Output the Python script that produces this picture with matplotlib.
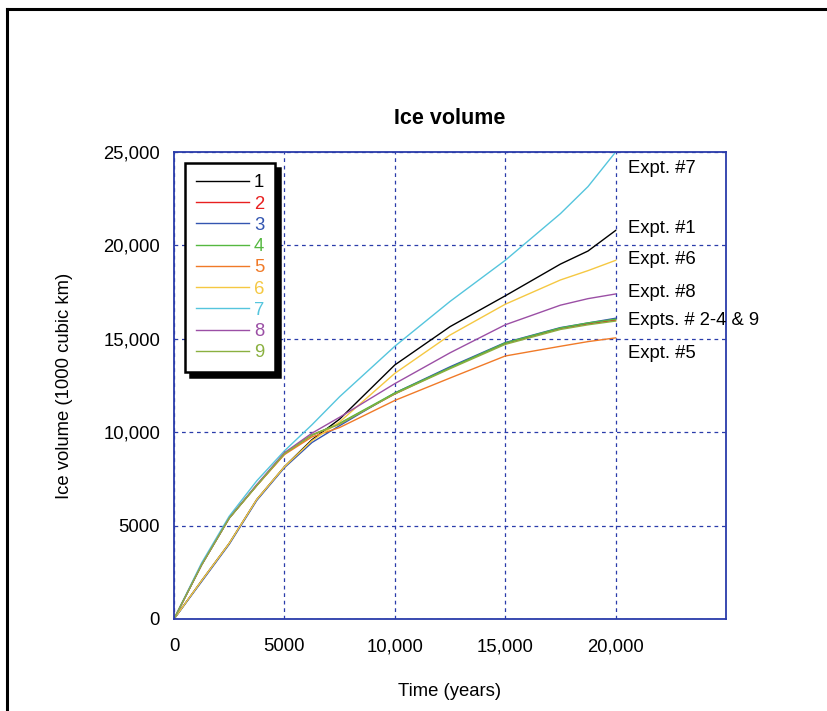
import matplotlib.pyplot as plt
from matplotlib.lines import Line2D
from matplotlib.ticker import FuncFormatter

plt.rcParams['font.family'] = ['Liberation Sans', 'DejaVu Sans']

# time in years
t = [0, 1250, 2500, 3750, 5000, 6250, 7500, 10000, 12500, 15000, 17500, 18750, 20000]

# ice volume (1000 cubic km) for each experiment
v1 = [0, 2050, 4050, 6400, 8150, 9600, 10700, 13600, 15650, 17300, 19000, 19700, 20800]
v2 = [0, 2900, 5400, 7150, 8850, 9850, 10450, 12050, 13450, 14750, 15550, 15800, 16000]
v3 = [0, 2000, 4000, 6350, 8100, 9450, 10350, 12100, 13500, 14800, 15600, 15850, 16100]
v4 = [0, 2900, 5400, 7150, 8850, 9850, 10480, 12100, 13450, 14780, 15580, 15850, 16050]
v5 = [0, 2900, 5400, 7150, 8800, 9750, 10250, 11700, 12900, 14080, 14600, 14850, 15050]
v6 = [0, 2050, 4050, 6400, 8150, 9550, 10550, 13150, 15200, 16850, 18150, 18650, 19200]
v7 = [0, 3000, 5500, 7400, 9000, 10400, 11900, 14600, 17000, 19200, 21700, 23150, 25000]
v8 = [0, 2900, 5400, 7200, 8900, 9950, 10800, 12600, 14250, 15750, 16800, 17150, 17400]
v9 = [0, 2900, 5400, 7150, 8850, 9850, 10430, 12050, 13400, 14700, 15500, 15750, 15950]

series = [v1, v2, v3, v4, v5, v6, v7, v8, v9]
labels = ["1", "2", "3", "4", "5", "6", "7", "8", "9"]
colors = ["#000000", "#e82020", "#3355b0", "#55b840", "#f07a28",
          "#f5c842", "#55c5dd", "#9b4fa5", "#8ab040"]

# end labels
notes = ["Expt. #7", "Expt. #1", "Expt. #6", "Expt. #8", "Expts. # 2-4 & 9", "Expt. #5"]
note_y = [24140, 20930, 19270, 17500, 16000, 14190]

fig = plt.figure(figsize=(8.27, 7.11), dpi=100)
ax = fig.add_axes([0.2104, 0.1294, 0.6675, 0.6568])

for v, lab, c in zip(series, labels, colors):
    ax.plot(t, v, color=c, lw=1.0, label=lab)

ax.set_xlim(0, 25000)
ax.set_ylim(0, 25000)
ax.set_xticks([0, 5000, 10000, 15000, 20000])
ax.set_yticks([0, 5000, 10000, 15000, 20000, 25000])

def fmt(x, pos):
    if x >= 10000:
        return "{:,.0f}".format(x)
    return "{:.0f}".format(x)

ax.xaxis.set_major_formatter(FuncFormatter(fmt))
ax.yaxis.set_major_formatter(FuncFormatter(fmt))
ax.tick_params(length=0, labelsize=13.3)
ax.tick_params(axis='y', pad=10)
ax.tick_params(axis='x', pad=14)

ax.grid(True, color="#2a3caa", ls=(0, (3, 3)), lw=0.9)
for s in ax.spines.values():
    s.set_color("#2a3caa")
    s.set_linewidth(1.3)

ax.set_title("Ice volume", fontsize=15.5, fontweight="bold", pad=20)
ax.set_xlabel("Time (years)", fontsize=13.3, labelpad=20)
ax.set_ylabel("Ice volume (1000 cubic km)", fontsize=13.3, labelpad=22)

for txt, y in zip(notes, note_y):
    ax.text(20550, y, txt, fontsize=13.3, va="center", ha="left")

leg = ax.legend(loc="upper left", bbox_to_anchor=(0.02, 0.976), borderaxespad=0,
                fontsize=13.3, handlelength=2.86, handletextpad=0.27, labelspacing=0.23,
                borderpad=0.6, fancybox=False, edgecolor="black", framealpha=1,
                shadow={"color": "black", "alpha": 1, "ox": 3.5, "oy": -3.5})
leg.get_frame().set_linewidth(1.8)
for txt, c in zip(leg.get_texts(), colors):
    txt.set_color(c)

# outer frame (left and top)
fig.add_artist(Line2D([7/827, 7/827], [0, 1 - 9/711], transform=fig.transFigure, color="black", lw=2.2))
fig.add_artist(Line2D([7/827, 1], [1 - 9/711, 1 - 9/711], transform=fig.transFigure, color="black", lw=2.2))

plt.savefig("out.png", dpi=100)
